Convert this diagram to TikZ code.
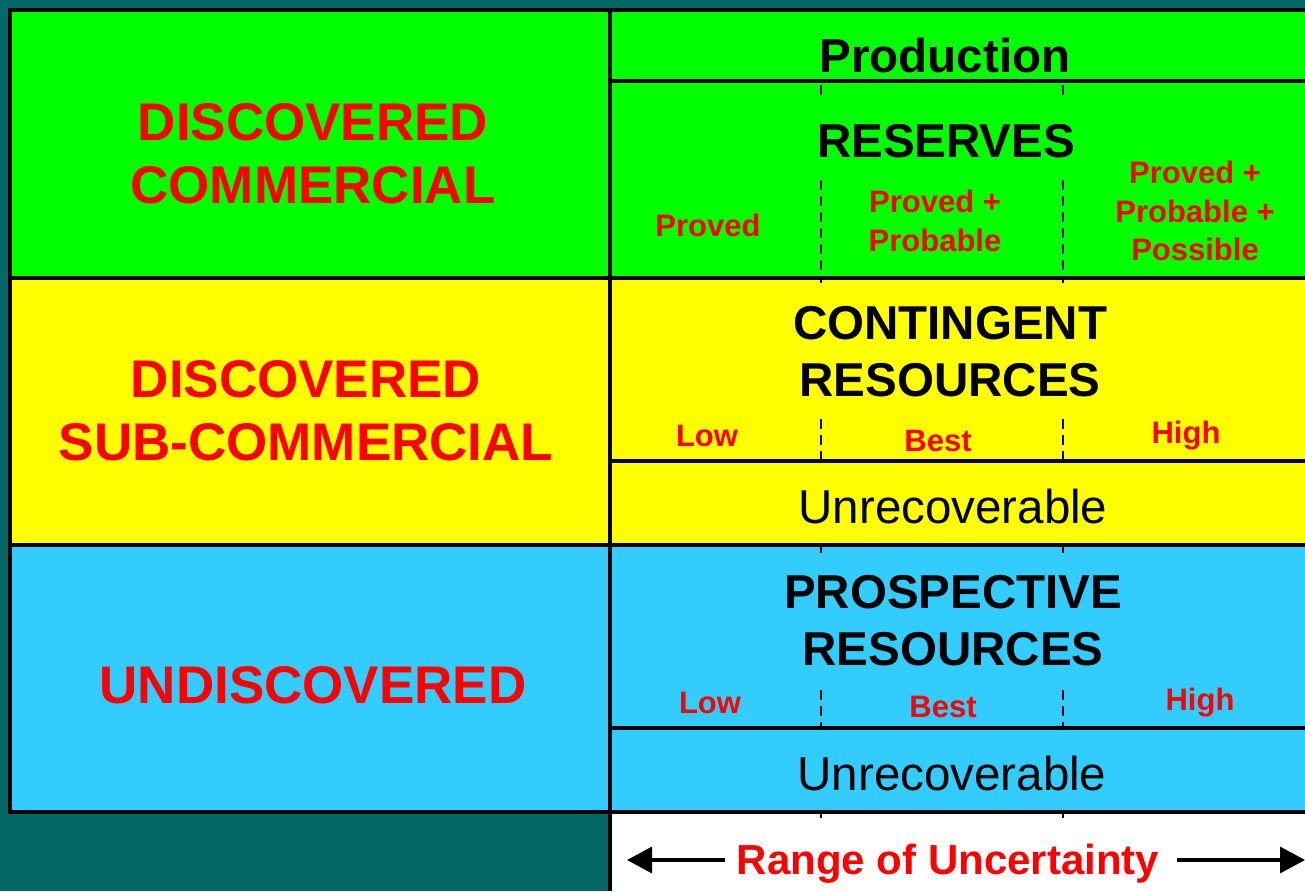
\documentclass[tikz,border=0pt]{standalone}
\usepackage{fontspec}
\setmainfont{Liberation Sans}
\usetikzlibrary{arrows.meta}
\definecolor{bgteal}{RGB}{0,102,102}
\definecolor{cgreen}{RGB}{0,255,0}
\definecolor{cyellow}{RGB}{255,255,0}
\definecolor{cblue}{RGB}{51,204,255}
\definecolor{cred}{RGB}{255,0,0}
\tikzset{
  border/.style={line width=4pt,black},
  divline/.style={line width=2pt,black,dash pattern=on 10pt off 6pt},
  biglbl/.style={text=cred,font=\fontsize{53}{63}\selectfont\bfseries,align=center,inner sep=0pt},
  headlbl/.style={text=black,font=\fontsize{47.5}{57}\selectfont\bfseries,align=center,inner sep=0pt},
  plainlbl/.style={text=black,font=\fontsize{47.5}{57}\selectfont,align=center,inner sep=0pt},
  smalllbl/.style={text=cred,font=\fontsize{31}{38.5}\selectfont\bfseries,align=center,inner sep=0pt},
  rangelbl/.style={text=cred,font=\fontsize{42}{50}\selectfont\bfseries,inner sep=0pt},
  rarrow/.style={line width=3.5pt,black,-{Triangle[length=25pt,width=26pt]}}
}
\begin{document}
\begin{tikzpicture}[x=1pt,y=-1pt]
\useasboundingbox (0,0) rectangle (1305,891);
% background and panels
\fill[bgteal] (0,0) rectangle (1305,891);
\fill[cgreen] (10,10) rectangle (1305,278);
\fill[cyellow] (10,278) rectangle (1305,545);
\fill[cblue] (10,545) rectangle (1305,812);
\fill[white] (610,812) rectangle (1305,891);
% dashed dividers
\foreach \xx in {821,1063}{
  \draw[divline] (\xx,85) -- (\xx,96);
  \draw[divline] (\xx,180) -- (\xx,283);
  \draw[divline] (\xx,419) -- (\xx,461);
  \draw[divline] (\xx,545) -- (\xx,553);
  \draw[divline] (\xx,690) -- (\xx,728);
  \draw[divline] (\xx,812) -- (\xx,818);
}
% borders
\draw[border] (8,10) -- (1305,10);
\draw[border] (10,8) -- (10,814);
\draw[border] (8,278) -- (1305,278);
\draw[border] (8,545) -- (1305,545);
\draw[border] (8,812) -- (1305,812);
\draw[border] (610,8) -- (610,891);
\draw[border] (610,81) -- (1305,81);
\draw[border] (610,461) -- (1305,461);
\draw[border] (610,728) -- (1305,728);
% left labels
\node[biglbl] (dc) at (313,154) {DISCOVERED\\COMMERCIAL};
\node[biglbl] (dsc) at (306,411) {DISCOVERED\\SUB-COMMERCIAL};
\node[biglbl] (und) at (313,685) {UNDISCOVERED};
% green block
\node[headlbl] (prod) at (945,56) {Production};
\node[headlbl] (res) at (946,141) {RESERVES};
\node[smalllbl] (p1) at (708,225) {Proved};
\node[smalllbl] (p2) at (935,221) {Proved +\\Probable};
\node[smalllbl] (p3) at (1195,211) {Proved +\\Probable +\\Possible};
% yellow block
\node[headlbl] (cont) at (950,352) {CONTINGENT\\RESOURCES};
\node[smalllbl] (cl) at (707,436) {Low};
\node[smalllbl] (cb) at (938,441) {Best};
\node[smalllbl] (ch) at (1186,436) {High};
\node[plainlbl] (cu) at (953,507) {Unrecoverable};
% blue block
\node[headlbl] (pros) at (953,621) {PROSPECTIVE\\RESOURCES};
\node[smalllbl] (pl) at (710,703) {Low};
\node[smalllbl] (pb) at (943,707) {Best};
\node[smalllbl] (ph) at (1200,703) {High};
\node[plainlbl] (pu) at (952,774) {Unrecoverable};
% range of uncertainty
\node[rangelbl] (rng) at (948,864) {Range of Uncertainty};
\coordinate (al) at (627,860);
\coordinate (ar) at (1305,860);
\draw[rarrow] ([xshift=-12pt]rng.west |- al) -- (al);
\draw[rarrow] ([xshift=18pt]rng.east |- ar) -- (ar);
\end{tikzpicture}
\end{document}
